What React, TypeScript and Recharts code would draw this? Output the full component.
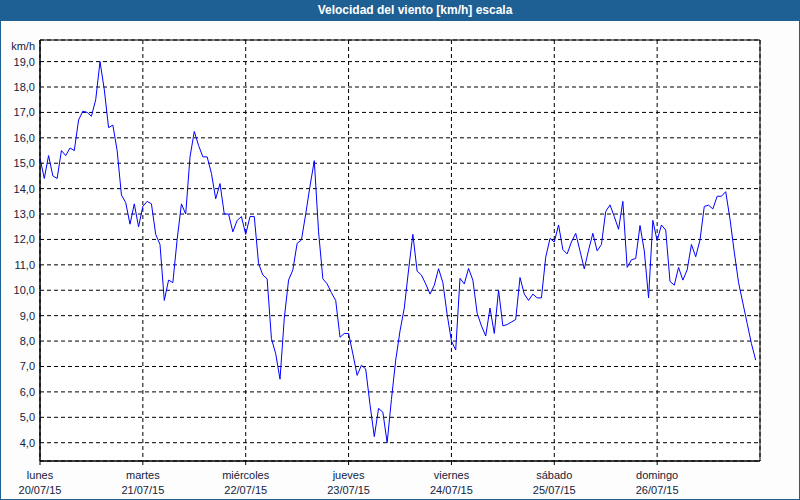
import { CartesianGrid, Line, LineChart, ReferenceArea, XAxis, YAxis } from "recharts";

// hourly wind speed, km/h, one array per day (00:00 .. 23:00)
const lunes = [15.2, 14.4, 15.3, 14.5, 14.4, 15.5, 15.3, 15.6, 15.5, 16.7, 17.05, 17.0, 16.85, 17.5, 19.0, 17.9, 16.4, 16.5, 15.5, 13.75, 13.45, 12.6, 13.4, 12.5];
const martes = [13.3, 13.5, 13.4, 12.2, 11.8, 9.6, 10.4, 10.3, 12.0, 13.4, 13.0, 15.25, 16.25, 15.7, 15.25, 15.25, 14.6, 13.6, 14.2, 13.0, 13.0, 12.3, 12.75, 12.9];
const miercoles = [12.2, 12.9, 12.9, 11.05, 10.6, 10.45, 8.1, 7.5, 6.5, 8.9, 10.4, 10.8, 11.85, 11.98, 13.0, 14.1, 15.1, 12.3, 10.45, 10.25, 9.9, 9.6, 8.15, 8.3];
const jueves = [8.3, 7.5, 6.65, 7.05, 6.9, 5.5, 4.24, 5.35, 5.2, 4.0, 5.7, 7.25, 8.4, 9.3, 10.8, 12.2, 10.75, 10.6, 10.25, 9.85, 10.2, 10.85, 10.3, 9.05];
const viernes = [8.0, 7.65, 10.47, 10.25, 10.86, 10.4, 9.1, 8.6, 8.2, 9.3, 8.3, 10.0, 8.6, 8.65, 8.75, 8.85, 10.5, 9.85, 9.6, 9.85, 9.7, 9.7, 11.3, 12.04];
const sabado = [11.9, 12.57, 11.6, 11.43, 11.9, 12.24, 11.55, 10.84, 11.58, 12.24, 11.55, 11.8, 13.1, 13.36, 12.9, 12.4, 13.5, 10.9, 11.2, 11.25, 12.55, 11.55, 9.7, 12.75];
const domingo = [11.95, 12.57, 12.37, 10.35, 10.2, 10.9, 10.4, 10.8, 11.8, 11.32, 11.98, 13.3, 13.35, 13.2, 13.7, 13.7, 13.88, 12.8, 11.5, 10.3, 9.5, 8.7, 7.9, 7.25];

const dayNames = ["lunes", "martes", "miércoles", "jueves", "viernes", "sábado", "domingo"];
const dayDates = ["20/07/15", "21/07/15", "22/07/15", "23/07/15", "24/07/15", "25/07/15", "26/07/15"];
const yTicks = [4, 5, 6, 7, 8, 9, 10, 11, 12, 13, 14, 15, 16, 17, 18, 19];

const days = [lunes, martes, miercoles, jueves, viernes, sabado, domingo];
const data = days.flatMap((vals, d) => vals.map((v, i) => ({ h: d * 24 + i, v })));
const xTicks = dayNames.map((_, d) => d * 24);

const FONT = "Tahoma, 'Liberation Sans', Arial, sans-serif";
const TEXT = "#14223c";
const FRAME = "#1f6094";

function DayTick({ x, y, payload }: any) {
  const d = Math.round(payload.value / 24);
  return (
    <g>
      <text x={x} y={y + 12} textAnchor="middle" fontSize={11} fontFamily={FONT} fill={TEXT}>
        {dayNames[d]}
      </text>
      <text x={x} y={y + 27} textAnchor="middle" fontSize={11} fontFamily={FONT} fill={TEXT}>
        {dayDates[d]}
      </text>
    </g>
  );
}

function SpeedTick({ x, y, payload }: any) {
  return (
    <text x={x} y={y + 4} textAnchor="end" fontSize={11} fontFamily={FONT} fill={TEXT}>
      {payload.value.toFixed(1).replace(".", ",")}
    </text>
  );
}

export default function App() {
  return (
    <div
      style={{
        position: "fixed",
        left: 0,
        top: 0,
        width: 800,
        height: 500,
        boxSizing: "border-box",
        border: `1px solid ${FRAME}`,
        background: "#fcfdfc",
        fontFamily: FONT,
      }}
    >
      <div
        style={{
          position: "absolute",
          left: -1,
          top: -1,
          width: 800,
          height: 21,
          background: FRAME,
          color: "#fff",
          fontWeight: "bold",
          fontSize: 12,
          lineHeight: "21px",
        }}
      >
        <span style={{ position: "absolute", left: 415, transform: "translateX(-50%)", whiteSpace: "nowrap" }}>
          Velocidad del viento [km/h] escala
        </span>
      </div>
      <div
        style={{
          position: "absolute",
          right: 800 - 1 - 35,
          top: 39,
          fontSize: 11,
          color: TEXT,
          lineHeight: "13px",
        }}
      >
        km/h
      </div>
      <div style={{ position: "absolute", left: -1, top: -1 }}>
        <LineChart width={800} height={500} data={data} margin={{ top: 40, right: 40, bottom: 0, left: 0 }}>
          <CartesianGrid stroke="#000" strokeDasharray="4 3" fill="#ffffff" fillOpacity={1} />
          <XAxis
            dataKey="h"
            type="number"
            domain={[0, 168]}
            ticks={xTicks}
            allowDataOverflow
            height={39}
            tickSize={4}
            tickMargin={2}
            stroke="#000"
            tick={<DayTick />}
          />
          <YAxis
            type="number"
            domain={[3.28, 19.85]}
            ticks={yTicks}
            allowDataOverflow
            width={40}
            tickLine={false}
            tickSize={0}
            tickMargin={5}
            stroke="#000"
            tick={<SpeedTick />}
          />
          <ReferenceArea x1={0} x2={168} y1={3.28} y2={19.85} fill="none" stroke="#000" strokeWidth={1} />
          <Line
            type="linear"
            dataKey="v"
            stroke="#0000ff"
            strokeWidth={1}
            dot={false}
            isAnimationActive={false}
          />
        </LineChart>
      </div>
    </div>
  );
}
